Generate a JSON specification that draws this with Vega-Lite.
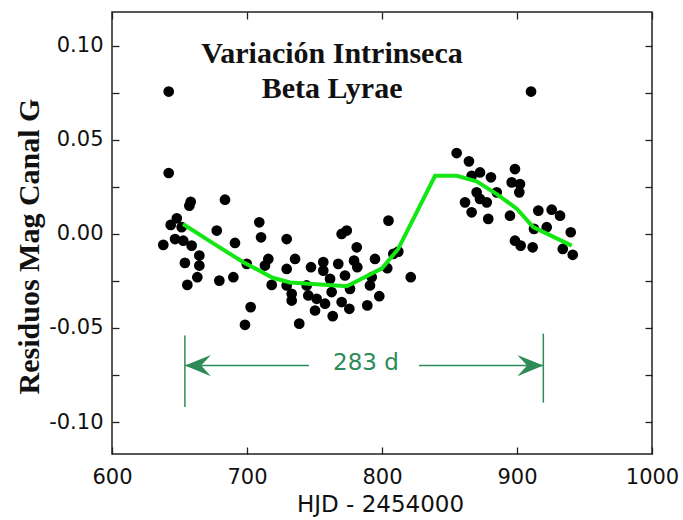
{
  "$schema": "https://vega.github.io/schema/vega-lite/v6.json",
  "width": 540,
  "height": 442,
  "autosize": {"type": "none"},
  "padding": {"left": 112, "top": 12, "right": 31, "bottom": 66},
  "background": "white",
  "config": {
    "view": {"stroke": "#222", "strokeWidth": 1.5},
    "axis": {"grid": false, "domain": false, "labelFont": "DejaVu Sans", "labelFontSize": 21, "labelColor": "#111", "tickColor": "#222", "tickSize": -7, "tickWidth": 1.3, "labelOverlap": false, "labelFlush": false}
  },
  "datasets": {
    "obs": [
      {"hjd": 642, "res": 0.0757}, {"hjd": 642, "res": 0.0324}, {"hjd": 658.3, "res": 0.0171}, {"hjd": 657.3, "res": 0.015},
      {"hjd": 683.7, "res": 0.0182}, {"hjd": 648, "res": 0.0083}, {"hjd": 643.5, "res": 0.0048}, {"hjd": 651.6, "res": 0.0036},
      {"hjd": 638, "res": -0.0058}, {"hjd": 646.7, "res": -0.0027}, {"hjd": 652.8, "res": -0.0036}, {"hjd": 659, "res": -0.0062},
      {"hjd": 664.7, "res": -0.0115}, {"hjd": 654, "res": -0.0154}, {"hjd": 664.7, "res": -0.0168}, {"hjd": 663.2, "res": -0.023},
      {"hjd": 655.8, "res": -0.0271}, {"hjd": 677.6, "res": 0.0018}, {"hjd": 691.1, "res": -0.0048}, {"hjd": 679.5, "res": -0.0248},
      {"hjd": 689.9, "res": -0.023}, {"hjd": 709.1, "res": 0.0062}, {"hjd": 710.4, "res": -0.0018}, {"hjd": 699.8, "res": -0.0159},
      {"hjd": 715.8, "res": -0.0133}, {"hjd": 713.3, "res": -0.0168}, {"hjd": 729.4, "res": -0.0027}, {"hjd": 735.6, "res": -0.0133},
      {"hjd": 729.4, "res": -0.0186}, {"hjd": 718.3, "res": -0.0271}, {"hjd": 729.4, "res": -0.0274}, {"hjd": 733.1, "res": -0.0318},
      {"hjd": 733.1, "res": -0.0354}, {"hjd": 702.7, "res": -0.0389}, {"hjd": 698.5, "res": -0.0483}, {"hjd": 738.7, "res": -0.0477},
      {"hjd": 747.4, "res": -0.0177}, {"hjd": 756.5, "res": -0.015}, {"hjd": 756.5, "res": -0.0195}, {"hjd": 767.6, "res": -0.0159},
      {"hjd": 770.1, "res": 0.0}, {"hjd": 773.9, "res": 0.0018}, {"hjd": 781.3, "res": -0.0071}, {"hjd": 779.3, "res": -0.0142},
      {"hjd": 781.7, "res": -0.0177}, {"hjd": 772.6, "res": -0.0221}, {"hjd": 744.2, "res": -0.0274}, {"hjd": 761.5, "res": -0.0239},
      {"hjd": 762.7, "res": -0.0309}, {"hjd": 745.4, "res": -0.0327}, {"hjd": 751.6, "res": -0.0345}, {"hjd": 757.8, "res": -0.0371},
      {"hjd": 750.4, "res": -0.0407}, {"hjd": 763.5, "res": -0.0437}, {"hjd": 770.1, "res": -0.0362}, {"hjd": 775.8, "res": -0.0398},
      {"hjd": 776.3, "res": -0.0292}, {"hjd": 789.1, "res": -0.038}, {"hjd": 798, "res": -0.0331}, {"hjd": 791.1, "res": -0.0274},
      {"hjd": 792.4, "res": -0.023}, {"hjd": 794.8, "res": -0.0133}, {"hjd": 803.9, "res": -0.0182}, {"hjd": 812.1, "res": -0.0094},
      {"hjd": 808.4, "res": -0.0106}, {"hjd": 804.8, "res": 0.0071}, {"hjd": 821.3, "res": -0.023},
      {"hjd": 910.4, "res": 0.0757}, {"hjd": 855.3, "res": 0.043}, {"hjd": 864.4, "res": 0.0386}, {"hjd": 866.4, "res": 0.0309},
      {"hjd": 872.6, "res": 0.0327}, {"hjd": 880.7, "res": 0.0301}, {"hjd": 870.1, "res": 0.0221}, {"hjd": 885, "res": 0.0221},
      {"hjd": 861.5, "res": 0.0168}, {"hjd": 866.4, "res": 0.0115}, {"hjd": 872.6, "res": 0.0186}, {"hjd": 877.6, "res": 0.0168},
      {"hjd": 878.7, "res": 0.008}, {"hjd": 898.5, "res": 0.0345}, {"hjd": 896.1, "res": 0.0274}, {"hjd": 902.2, "res": 0.0265},
      {"hjd": 901.7, "res": 0.0221}, {"hjd": 915.8, "res": 0.0124}, {"hjd": 925.7, "res": 0.0129}, {"hjd": 931.9, "res": 0.0097},
      {"hjd": 894.8, "res": 0.0097}, {"hjd": 912.6, "res": 0.0027}, {"hjd": 922, "res": 0.0036}, {"hjd": 939.8, "res": 0.0009},
      {"hjd": 898.5, "res": -0.0036}, {"hjd": 902.7, "res": -0.0062}, {"hjd": 911.6, "res": -0.0071}, {"hjd": 933.9, "res": -0.008},
      {"hjd": 941.3, "res": -0.0111}
    ],
    "fit": [
      {"hjd": 652.6, "res": 0.0053}, {"hjd": 675, "res": -0.005}, {"hjd": 697, "res": -0.0149}, {"hjd": 719, "res": -0.0233},
      {"hjd": 732, "res": -0.0258}, {"hjd": 774, "res": -0.0278}, {"hjd": 800, "res": -0.0183}, {"hjd": 812, "res": -0.008},
      {"hjd": 839.3, "res": 0.0309}, {"hjd": 855.3, "res": 0.0309}, {"hjd": 870, "res": 0.028}, {"hjd": 885, "res": 0.0212},
      {"hjd": 900, "res": 0.0133}, {"hjd": 912, "res": 0.0036}, {"hjd": 940.5, "res": -0.0062}
    ],
    "span": [
      {"side": "left", "edge": 654, "inner": 745.9, "y": -0.07, "top": -0.054, "bottom": -0.092},
      {"side": "right", "edge": 919.5, "inner": 827.4, "y": -0.07, "top": -0.053, "bottom": -0.0897}
    ],
    "notes": [
      {"label": "283 d", "hjd": 788.1, "res": -0.0725}
    ],
    "titles": [
      {"label": "Variación Intrinseca", "hjd": 763, "res": 0.0911},
      {"label": "Beta Lyrae", "hjd": 763, "res": 0.0725}
    ]
  },
  "layer": [
    {
      "data": {"name": "obs"},
      "mark": {"type": "point", "filled": true, "size": 115, "color": "#000", "opacity": 1},
      "encoding": {
        "x": {"field": "hjd", "type": "quantitative", "scale": {"domain": [600, 1000], "nice": false, "zero": false},
          "axis": {"orient": "bottom", "values": [600, 700, 800, 900, 1000], "format": "d", "labelPadding": 19, "title": "HJD - 2454000", "titleFont": "DejaVu Sans", "titleFontSize": 23, "titleFontWeight": "normal", "titleColor": "#111", "titleX": 268, "titleY": 57, "titleAlign": "center", "titleBaseline": "alphabetic"}},
        "y": {"field": "res", "type": "quantitative", "scale": {"domain": [-0.117, 0.118], "nice": false, "zero": false},
          "axis": {"orient": "left", "values": [-0.1, -0.075, -0.05, -0.025, 0, 0.025, 0.05, 0.075, 0.1], "labelPadding": 16,
            "labelExpr": "datum.value > 0.09 ? '0.10' : (datum.value > 0.04 && datum.value < 0.06) ? '0.05' : abs(datum.value) < 0.001 ? '0.00' : (datum.value < -0.04 && datum.value > -0.06) ? '-0.05' : datum.value < -0.09 ? '-0.10' : ''",
            "title": "Residuos Mag Canal G", "titleFont": "Liberation Serif", "titleFontSize": 30, "titleFontWeight": "bold", "titleColor": "#111", "titleAngle": -90, "titleX": -74, "titleY": 234, "titleAlign": "center", "titleBaseline": "alphabetic"}}
      }
    },
    {
      "data": {"name": "fit"},
      "mark": {"type": "line", "color": "#14e614", "strokeWidth": 4},
      "encoding": {
        "x": {"field": "hjd", "type": "quantitative", "scale": {"domain": [600, 1000], "nice": false, "zero": false},
          "axis": {"orient": "top", "values": [600, 700, 800, 900, 1000], "labels": false, "title": null}},
        "y": {"field": "res", "type": "quantitative", "scale": {"domain": [-0.117, 0.118], "nice": false, "zero": false},
          "axis": {"orient": "right", "values": [-0.1, -0.075, -0.05, -0.025, 0, 0.025, 0.05, 0.075, 0.1], "labels": false, "title": null}}
      }
    },
    {
      "data": {"name": "span"},
      "mark": {"type": "rule", "color": "#2e8b57", "strokeWidth": 1.5},
      "encoding": {
        "x": {"field": "edge", "type": "quantitative", "axis": null},
        "x2": {"field": "inner"},
        "y": {"field": "y", "type": "quantitative", "axis": null}
      }
    },
    {
      "data": {"name": "span"},
      "mark": {"type": "rule", "color": "#2e8b57", "strokeWidth": 1.5},
      "encoding": {
        "x": {"field": "edge", "type": "quantitative", "axis": null},
        "y": {"field": "top", "type": "quantitative", "axis": null},
        "y2": {"field": "bottom"}
      }
    },
    {
      "data": {"name": "span"},
      "transform": [{"filter": "datum.side == 'left'"}],
      "mark": {"type": "point", "filled": true, "opacity": 1, "color": "#2e8b57", "size": 676, "shape": "M0,0L2,-0.81L1.25,0L2,0.81Z"},
      "encoding": {
        "x": {"field": "edge", "type": "quantitative", "axis": null},
        "y": {"field": "y", "type": "quantitative", "axis": null}
      }
    },
    {
      "data": {"name": "span"},
      "transform": [{"filter": "datum.side == 'right'"}],
      "mark": {"type": "point", "filled": true, "opacity": 1, "color": "#2e8b57", "size": 676, "shape": "M0,0L-2,-0.81L-1.25,0L-2,0.81Z"},
      "encoding": {
        "x": {"field": "edge", "type": "quantitative", "axis": null},
        "y": {"field": "y", "type": "quantitative", "axis": null}
      }
    },
    {
      "data": {"name": "notes"},
      "mark": {"type": "text", "font": "DejaVu Sans", "fontSize": 23, "color": "#2e8b57", "align": "center", "baseline": "alphabetic"},
      "encoding": {
        "x": {"field": "hjd", "type": "quantitative", "axis": null},
        "y": {"field": "res", "type": "quantitative", "axis": null},
        "text": {"field": "label"}
      }
    },
    {
      "data": {"name": "titles"},
      "mark": {"type": "text", "font": "Liberation Serif", "fontSize": 30, "fontWeight": "bold", "color": "#111", "align": "center", "baseline": "alphabetic"},
      "encoding": {
        "x": {"field": "hjd", "type": "quantitative", "axis": null},
        "y": {"field": "res", "type": "quantitative", "axis": null},
        "text": {"field": "label"}
      }
    }
  ],
  "resolve": {"axis": {"x": "independent", "y": "independent"}}
}
